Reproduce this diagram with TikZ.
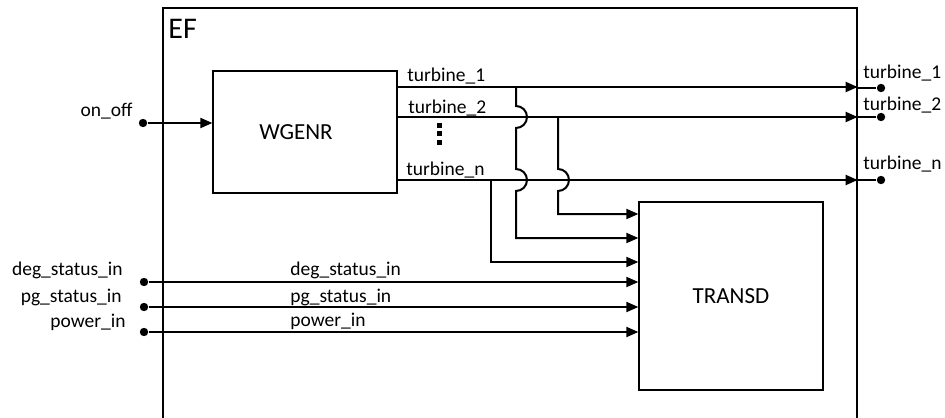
\documentclass[tikz,border=0pt]{standalone}
\usepackage{fontspec}
\setmainfont{Carlito}
\usepackage{tikz}
\usetikzlibrary{positioning, arrows.meta}

\begin{document}
\begin{tikzpicture}[x=0.5pt, y=-0.5pt, font=\fontsize{9.75}{11}\selectfont,
  block/.style={draw, line width=0.65pt, minimum width=92pt, inner sep=0pt, font=\fontsize{11.5}{13}\selectfont},
  sig/.style={line width=1pt, -{Triangle[length=6pt, width=5pt]}},
  wire/.style={line width=1pt},
  portdot/.style={circle, fill, inner sep=0pt, minimum size=4.2pt},
  lbl/.style={inner sep=0pt}]
  \useasboundingbox (0,0) rectangle (945,417);

  % Outer block
  \node[draw, line width=0.65pt, minimum width=347pt, minimum height=211pt, inner sep=0pt] (ef) at (510,219) {};
  \node[lbl, anchor=base west, font=\fontsize{15}{17}\selectfont] (eflbl) at (168,39) {EF};

  % Sub-blocks
  \node[block, minimum height=61pt] (wgenr) at (305,132) {\hspace*{-9pt}WGENR};
  \node[block, minimum height=94pt] (transd) at (731,296) {TRANSD};

  % on_off input
  \node[portdot] (onoff) at (143,123) {};
  \node[lbl, anchor=base east] at (133,116) {on\_off};
  \draw[sig] (onoff) -- (onoff -| wgenr.west);

  % Turbine outputs
  \draw[sig] (wgenr.east |- 0,87) -- (ef.east |- 0,87);
  \draw[sig] (wgenr.east |- 0,117) -- (ef.east |- 0,117);
  \draw[sig] (wgenr.east |- 0,180) -- (ef.east |- 0,180);
  \node[lbl, anchor=base west] at (407,82) {turbine\_1};
  \node[lbl, anchor=base west] at (408,113) {turbine\_2};
  \node[lbl, anchor=base west] at (406,175) {turbine\_n};
  \foreach \y in {123,131,140} \fill (437,\y) rectangle ++(5,5);

  % Output ports
  \node[portdot] (out1) at (881,88) {};
  \node[portdot] (out2) at (881,117) {};
  \node[portdot] (outn) at (881,180) {};
  \draw[wire] (ef.east |- out1) -- (out1);
  \draw[wire] (ef.east |- out2) -- (out2);
  \draw[wire] (ef.east |- outn) -- (outn);
  \node[lbl, anchor=base west] at (863,79) {turbine\_1};
  \node[lbl, anchor=base west] at (863,111) {turbine\_2};
  \node[lbl, anchor=base west] at (863,169) {turbine\_n};

  % Branches to TRANSD (with hops)
  \draw[sig] (516,87) -- (516,106) arc[start angle=-90, end angle=90, radius=11]
    -- (516,169) arc[start angle=-90, end angle=90, radius=11]
    -- (516,238) -- (transd.west |- 0,238);
  \draw[sig] (558,117) -- (558,169) arc[start angle=-90, end angle=90, radius=11]
    -- (558,214) -- (transd.west |- 0,214);
  \draw[sig] (491,180) -- (491,262) -- (transd.west |- 0,262);

  % Status inputs
  \node[portdot] (deg) at (144,282) {};
  \node[portdot] (pg) at (144,307) {};
  \node[portdot] (pwr) at (144,332) {};
  \node[lbl, anchor=base east] at (123,275) {deg\_status\_in};
  \node[lbl, anchor=base east] at (122,302) {pg\_status\_in};
  \node[lbl, anchor=base east] at (126,327) {power\_in};
  \draw[sig] (deg) -- (deg -| transd.west);
  \draw[sig] (pg) -- (pg -| transd.west);
  \draw[sig] (pwr) -- (pwr -| transd.west);
  \node[lbl, anchor=base west] at (290,275) {deg\_status\_in};
  \node[lbl, anchor=base west] at (290,302) {pg\_status\_in};
  \node[lbl, anchor=base west] at (290,326) {power\_in};
\end{tikzpicture}
\end{document}
